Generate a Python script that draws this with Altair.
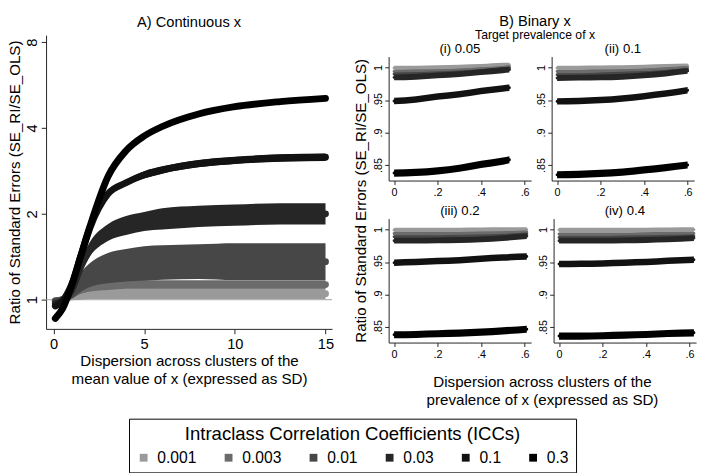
import altair as alt
import pandas as pd

FONT = "Liberation Sans"

ICC_LEVELS = ["0.001", "0.003", "0.01", "0.03", "0.1", "0.3"]
ICC_COLORS = ["#9a9a9a", "#6b6b6b", "#474747", "#262626", "#121212", "#000000"]

# ---------------- Panel A: continuous x ----------------
DISP_A = [0.1, 0.5, 1, 1.5, 2, 3, 4, 5, 6, 8, 10, 12.5, 15]
A_MID = {
    "0.001": [0.985, 1.0, 1.03, 1.04, 1.045, 1.05, 1.05, 1.05, 1.05, 1.05, 1.05, 1.05, 1.05],
    "0.003": [0.99, 1.0, 1.04, 1.08, 1.10, 1.12, 1.13, 1.13, 1.13, 1.13, 1.13, 1.13, 1.13],
    "0.01": [0.99, 1.0, 1.06, 1.15, 1.22, 1.29, 1.32, 1.34, 1.35, 1.36, 1.36, 1.36, 1.36],
    "0.03": [0.97, 0.99, 1.08, 1.30, 1.50, 1.72, 1.82, 1.88, 1.92, 1.96, 1.98, 2.0, 2.0],
    "0.1": [0.95, 0.99, 1.13, 1.42, 1.78, 2.35, 2.57, 2.74, 2.85, 3.0, 3.08, 3.14, 3.16],
    "0.3": [0.86, 0.93, 1.12, 1.42, 1.80, 2.70, 3.33, 3.75, 4.05, 4.48, 4.75, 4.95, 5.08],
}
# multiplicative half-spread of each scatter band
A_SPREAD = {
    "0.001": [1.01, 1.02, 1.035, 1.04, 1.04, 1.045, 1.045, 1.045, 1.045, 1.045, 1.045, 1.045, 1.045],
    "0.003": [1.01, 1.015, 1.025, 1.03, 1.03, 1.035, 1.035, 1.035, 1.035, 1.035, 1.035, 1.035, 1.035],
    "0.01": [1.01, 1.02, 1.05, 1.08, 1.10, 1.13, 1.14, 1.15, 1.15, 1.15, 1.16, 1.16, 1.16],
    "0.03": [1.01, 1.01, 1.03, 1.05, 1.06, 1.07, 1.08, 1.08, 1.09, 1.09, 1.09, 1.09, 1.09],
    "0.1": [1.01, 1.01, 1.01, 1.01, 1.01, 1.02, 1.025, 1.03, 1.03, 1.03, 1.03, 1.03, 1.03],
    "0.3": [1.005, 1.005, 1.005, 1.005, 1.005, 1.01, 1.012, 1.015, 1.02, 1.02, 1.02, 1.02, 1.02],
}

# ---------------- Panel B: binary x ----------------
B_PANELS = ["(i) 0.05", "(ii) 0.1", "(iii) 0.2", "(iv) 0.4"]
B_DISP = {
    "(i) 0.05": [0, 0.1, 0.2, 0.3, 0.4, 0.5, 0.53],
    "(ii) 0.1": [0, 0.1, 0.2, 0.3, 0.4, 0.5, 0.6],
    "(iii) 0.2": [0, 0.1, 0.2, 0.3, 0.4, 0.5, 0.61],
    "(iv) 0.4": [0, 0.1, 0.2, 0.3, 0.4, 0.5, 0.62],
}
B_MID = {
    "(i) 0.05": {
        "0.001": [0.9995, 0.9995, 1.0, 1.001, 1.002, 1.004, 1.004],
        "0.003": [0.994, 0.9945, 0.995, 0.996, 0.998, 1.0, 1.001],
        "0.01": [0.990, 0.9905, 0.9915, 0.993, 0.995, 0.998, 0.999],
        "0.03": [0.985, 0.986, 0.988, 0.990, 0.993, 0.996, 0.997],
        "0.1": [0.9485, 0.951, 0.9555, 0.959, 0.964, 0.968, 0.969],
        "0.3": [0.8375, 0.8385, 0.841, 0.845, 0.851, 0.856, 0.858],
    },
    "(ii) 0.1": {
        "0.001": [0.9995, 0.9995, 0.9998, 1.0, 1.001, 1.002, 1.003],
        "0.003": [0.994, 0.994, 0.9945, 0.995, 0.996, 0.998, 1.0],
        "0.01": [0.989, 0.989, 0.990, 0.991, 0.992, 0.994, 0.997],
        "0.03": [0.984, 0.9845, 0.985, 0.986, 0.988, 0.991, 0.995],
        "0.1": [0.948, 0.9485, 0.950, 0.9525, 0.956, 0.960, 0.965],
        "0.3": [0.835, 0.8355, 0.837, 0.839, 0.8425, 0.846, 0.850],
    },
    "(iii) 0.2": {
        "0.001": [0.9995, 0.9995, 0.9995, 0.9995, 0.9998, 1.0, 1.0],
        "0.003": [0.994, 0.994, 0.994, 0.994, 0.9945, 0.995, 0.996],
        "0.01": [0.989, 0.989, 0.989, 0.9895, 0.990, 0.991, 0.993],
        "0.03": [0.983, 0.983, 0.9835, 0.984, 0.985, 0.987, 0.990],
        "0.1": [0.949, 0.950, 0.9515, 0.953, 0.955, 0.957, 0.9585],
        "0.3": [0.838, 0.8385, 0.8395, 0.8405, 0.842, 0.844, 0.8465],
    },
    "(iv) 0.4": {
        "0.001": [0.9995, 0.9995, 0.9995, 0.9995, 0.9995, 0.9998, 1.0],
        "0.003": [0.993, 0.993, 0.993, 0.993, 0.9935, 0.994, 0.994],
        "0.01": [0.988, 0.988, 0.988, 0.9885, 0.989, 0.9895, 0.990],
        "0.03": [0.983, 0.983, 0.983, 0.9835, 0.984, 0.985, 0.987],
        "0.1": [0.947, 0.9475, 0.948, 0.949, 0.950, 0.952, 0.9535],
        "0.3": [0.836, 0.836, 0.8365, 0.8375, 0.8385, 0.840, 0.841],
    },
}
B_HALF = {"0.001": 0.0035, "0.003": 0.0025, "0.01": 0.0025, "0.03": 0.0045, "0.1": 0.005, "0.3": 0.0055}

Y_TITLE = "Ratio of Standard Errors (SE_RI/SE_OLS)"
B_TITLE = ["B) Binary x"]
B_SUBTITLE = ["Target prevalence of x"]

color_scale = alt.Scale(domain=ICC_LEVELS, range=ICC_COLORS)
legend = alt.Legend(
    title="Intraclass Correlation Coefficients (ICCs)",
    orient="none", legendX=85, legendY=393,
    direction="horizontal", columns=6, symbolType="square", symbolSize=64,
    symbolStrokeWidth=0, labelFontSize=16, titleFontSize=19, titleFontWeight="normal",
    titleAnchor="middle", strokeColor="#000", fillColor="#fff", padding=7,
    labelOffset=6, columnPadding=24, titlePadding=6, labelColor="#000", titleColor="#000",
    titleLimit=600, labelLimit=200,
)


def band_chart(rows, xs, ys_lo, ys_mid, line_w):
    df = pd.DataFrame(rows)
    layers = []
    for icc, col in zip(ICC_LEVELS, ICC_COLORS):
        sub = df[df["icc"] == icc]
        base = alt.Chart(sub)
        area = base.mark_area(interpolate="monotone", opacity=1).encode(
            x=xs("x:Q"), y=ys_lo("lo:Q"), y2="hi:Q",
            color=alt.Color("icc:N", scale=color_scale, legend=legend),
        )
        line = base.mark_line(interpolate="monotone", strokeWidth=line_w,
                              strokeCap="round", color=col).encode(
            x=xs("x:Q"), y=ys_mid("mid:Q"))
        layers += [area, line]
    return layers


# ---- chart A ----
rowsA = []
for icc in ICC_LEVELS:
    for x, m, s in zip(DISP_A, A_MID[icc], A_SPREAD[icc]):
        rowsA.append({"icc": icc, "x": x, "mid": m, "lo": m / s, "hi": m * s})

xA_scale = alt.Scale(domain=[-0.41, 15.36], nice=False, zero=False)
yA_scale = alt.Scale(type="log", base=2, domain=[0.79, 8.47], nice=False)
xA_axis = alt.Axis(values=[0, 5, 10, 15], title=["Dispersion across clusters of the",
                                                  "mean value of x (expressed as SD)"],
                   labelFontSize=15, titleFontSize=15.5, labelPadding=3, titlePadding=3,
                   titleLineHeight=18)
yA_axis = alt.Axis(values=[1, 2, 4, 8], labelAngle=-90, labelAlign="center",
                   labelBaseline="bottom", title=Y_TITLE, labelFontSize=15,
                   titleFontSize=15.5, labelPadding=2, titlePadding=2)


def xsA(f):
    return alt.X(f, scale=xA_scale, axis=xA_axis)


def ysA(f):
    return alt.Y(f, scale=yA_scale, axis=yA_axis)


ruleA = alt.Chart(pd.DataFrame({"v": [1]})).mark_rule(color="#a0a0a0", strokeWidth=1).encode(
    y=ysA("v:Q"), x=alt.value(0), x2=alt.value(293))

chartA = alt.layer(ruleA, *band_chart(rowsA, xsA, ysA, ysA, 7)).properties(
    width=293, height=301,
    title=alt.TitleParams("A) Continuous x", fontSize=15, offset=5, anchor="middle"),
)

# ---- charts B ----
xB_scale = alt.Scale(domain=[-0.025, 0.63], nice=False, zero=False)
yB_scale = alt.Scale(domain=[0.826, 1.017], nice=False, zero=False)
xB_axis = alt.Axis(values=[0, 0.2, 0.4, 0.6], title=None, labelFontSize=11, tickSize=4,
                   labelPadding=2,
                   labelExpr="datum.value == 0 ? '0' : slice(format(datum.value, '.1f'), 1)")
yB_axis = alt.Axis(values=[0.85, 0.9, 0.95, 1], title=None, labelFontSize=11, tickSize=4,
                   labelAngle=-90, labelAlign="center", labelBaseline="bottom", labelPadding=1,
                   labelExpr="datum.value == 1 ? '1' : slice(format(datum.value, '.2~f'), 1)")


def xsB(f):
    return alt.X(f, scale=xB_scale, axis=xB_axis)


def ysB(f):
    return alt.Y(f, scale=yB_scale, axis=yB_axis)


panels = []
for p in B_PANELS:
    rows = []
    for icc in ICC_LEVELS:
        for x, m in zip(B_DISP[p], B_MID[p][icc]):
            h = B_HALF[icc]
            rows.append({"icc": icc, "x": x, "mid": m, "lo": m - h, "hi": m + h})
    panels.append(alt.layer(*band_chart(rows, xsB, ysB, ysB, 3)).properties(
        width=146, height=127,
        title=alt.TitleParams(p, fontSize=13.5, offset=1, anchor="middle")))

row1 = alt.hconcat(panels[0], panels[1], spacing=5)
row2 = alt.hconcat(panels[2], panels[3], spacing=5)
grid = alt.vconcat(row1, row2, spacing=7,
                   title=alt.TitleParams(Y_TITLE, orient="left", fontSize=15.5, offset=4,
                                         anchor="middle"))
right1 = alt.vconcat(grid, title=alt.TitleParams(
    ["Dispersion across clusters of the", "prevalence of x (expressed as SD)"],
    orient="bottom", fontSize=15.5, lineHeight=18, offset=17, dx=16, anchor="middle"))

# header of panel B: main title and "Target prevalence of x"
head_title = alt.Chart(pd.DataFrame({"t": B_TITLE})).mark_text(
    fontSize=15, baseline="middle", align="center", color="#000"
).encode(text="t:N", x=alt.value(150), y=alt.value(-14.5))
head_sub = alt.Chart(pd.DataFrame({"t": B_SUBTITLE})).mark_text(
    fontSize=12.5, baseline="middle", align="center", color="#000"
).encode(text="t:N", x=alt.value(150), y=alt.value(0))
header = alt.layer(head_title, head_sub).properties(width=314, height=3)

right = alt.vconcat(header, right1, spacing=0)

chart = alt.hconcat(chartA, right, spacing=14).properties(
    padding=0
).configure(
    font=FONT
).configure_view(stroke=None).configure_axis(
    grid=False, domainColor="#222", tickColor="#222", labelColor="#000",
    titleColor="#000", titleFontWeight="normal", tickSize=5,
).configure_title(fontWeight="normal", color="#000", font=FONT)

chart.save("out.html", embed_options={"renderer": "svg", "actions": False})
